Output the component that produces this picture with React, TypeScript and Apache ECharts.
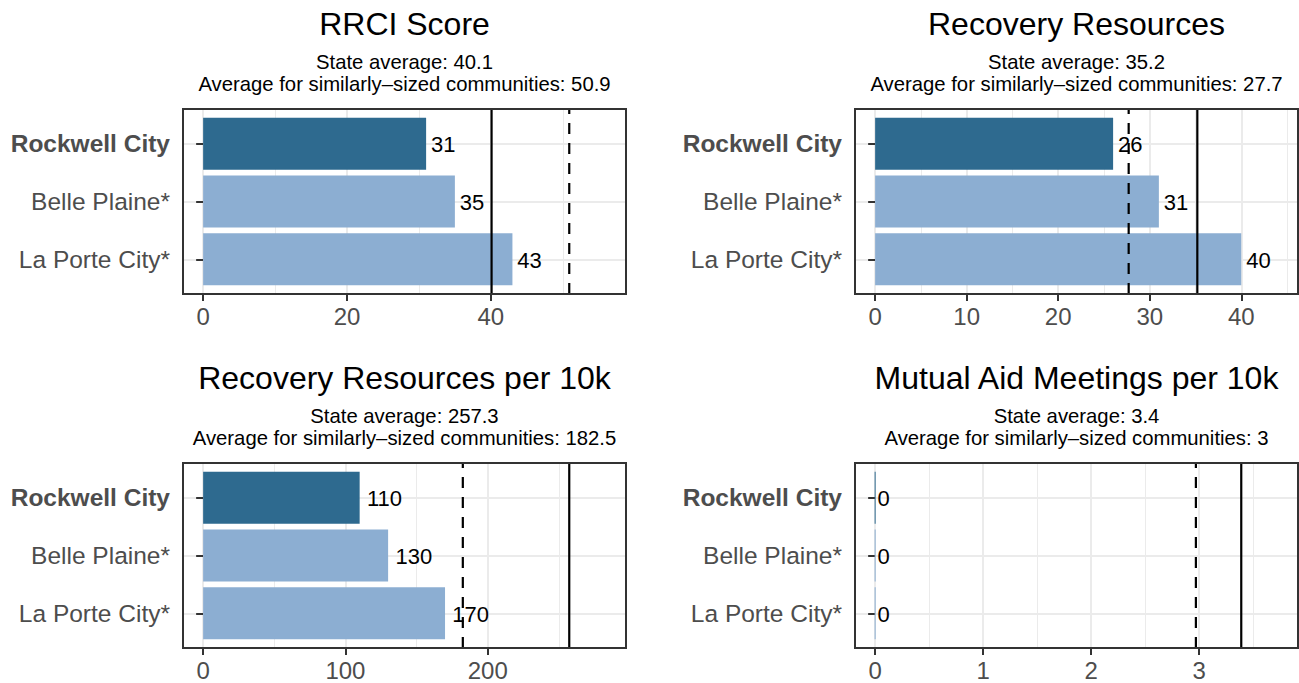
import React, { useEffect, useRef } from "react";
import * as echarts from "echarts";

// ---------- data ----------
const categories = ["Rockwell City", "Belle Plaine*", "La Porte City*"];
const focusCity = "Rockwell City";
const panelTitles = [
  "RRCI Score",
  "Recovery Resources",
  "Recovery Resources per 10k",
  "Mutual Aid Meetings per 10k",
];
const rrciValues = [31, 35, 43];
const resourcesValues = [26, 31, 40];
const resourcesPer10kValues = [110, 130, 170];
const meetingsPer10kValues = [0, 0, 0];
const stateAverages = [40.1, 35.2, 257.3, 3.39];
const similarAverages = [50.9, 27.7, 182.5, 2.97];
const stateAverageLabels = ["40.1", "35.2", "257.3", "3.4"];
const similarAverageLabels = ["50.9", "27.7", "182.5", "3"];
const xTickValues = [
  [0, 20, 40],
  [0, 10, 20, 30, 40],
  [0, 100, 200],
  [0, 1, 2, 3],
];

// ---------- style ----------
const FONT = '"Liberation Sans", Arial, Helvetica, sans-serif';
const darkBar = "#2E6A8F";
const lightBar = "#8CAED2";
const tickText = "#4D4D4D";
const borderCol = "#333333";
const gridCol = "#EBEBEB";
const panelValues = [rrciValues, resourcesValues, resourcesPer10kValues, meetingsPer10kValues];
const splitNumbers = [3, 5, 3, 4];
const layout = [
  { left: 183, top: 109 },
  { left: 855, top: 109 },
  { left: 183, top: 463 },
  { left: 855, top: 463 },
];
const W = 443;
const H = 185;
const LABEL_FS = 22;
const categoryPositions = categories.map((_, i) => i + 1);

export default function App() {
  const ref = useRef<HTMLDivElement>(null);

  useEffect(() => {
    const chart = echarts.init(ref.current!, null, { renderer: "svg" });

    const grids: any[] = [];
    const xAxes: any[] = [];
    const yAxes: any[] = [];
    const series: any[] = [];
    const graphics: any[] = [];

    panelValues.forEach((vals, i) => {
      const l = layout[i];
      const lim = 1.1 * Math.max(...vals, stateAverages[i], similarAverages[i]);
      grids.push({ left: l.left, top: l.top, width: W, height: H, show: false });
      xAxes.push({
        type: "value",
        gridIndex: i,
        min: -0.05 * lim,
        max: 1.05 * lim,
        splitNumber: splitNumbers[i],
        axisLine: { show: false },
        axisTick: {
          show: true,
          customValues: xTickValues[i],
          length: 7,
          lineStyle: { color: borderCol, width: 2 },
        },
        axisLabel: {
          show: true,
          customValues: xTickValues[i],
          margin: 10,
          fontSize: 24,
          color: tickText,
          fontFamily: FONT,
        },
        splitLine: { show: true, lineStyle: { color: gridCol, width: 2 } },
        minorTick: { show: false, splitNumber: 2 },
        minorSplitLine: { show: true, lineStyle: { color: gridCol, width: 1 } },
      });
      yAxes.push({
        type: "value",
        gridIndex: i,
        min: 0.4,
        max: 3.6,
        inverse: true,
        splitNumber: 3,
        axisLine: { show: false },
        axisTick: {
          show: true,
          customValues: categoryPositions,
          length: 7,
          lineStyle: { color: borderCol, width: 2 },
        },
        axisLabel: {
          show: true,
          customValues: categoryPositions,
          margin: 13,
          fontSize: 24.5,
          color: tickText,
          fontFamily: FONT,
          formatter: (v: number) => {
            const name = categories[Math.round(v) - 1] || "";
            return name === focusCity ? `{b|${name}}` : name;
          },
          rich: {
            b: { fontWeight: "bold", fontSize: 24.5, color: tickText, fontFamily: FONT },
          },
        },
        splitLine: { show: true, lineStyle: { color: gridCol, width: 2 } },
      });

      // bars
      series.push({
        type: "custom",
        xAxisIndex: i,
        yAxisIndex: i,
        z: 2,
        silent: true,
        data: vals.map((v, k) => [v, categoryPositions[k]]),
        encode: { x: 0, y: 1 },
        renderItem: (params: any, api: any) => {
          const v = api.value(0);
          const c = api.value(1);
          const s = api.coord([0, c]);
          const e = api.coord([v, c]);
          const h = api.size([0, 0.9])[1];
          let w = e[0] - s[0];
          let x0 = s[0];
          if (w < 1) {
            w = 1;
            x0 = s[0] - 0.5;
          }
          return {
            type: "rect",
            shape: { x: x0, y: s[1] - h / 2, width: w, height: h },
            style: {
              fill: categories[params.dataIndex] === focusCity ? darkBar : lightBar,
            },
          };
        },
      });

      // reference lines
      series.push({
        type: "line",
        xAxisIndex: i,
        yAxisIndex: i,
        z: 3,
        silent: true,
        symbol: "none",
        animation: false,
        data: [
          [stateAverages[i], 3.6],
          [stateAverages[i], 0.4],
        ],
        lineStyle: { color: "#000000", width: 2.2, type: "solid" },
      });
      series.push({
        type: "line",
        xAxisIndex: i,
        yAxisIndex: i,
        z: 3,
        silent: true,
        symbol: "none",
        animation: false,
        data: [
          [similarAverages[i], 3.6],
          [similarAverages[i], 0.4],
        ],
        lineStyle: { color: "#000000", width: 2.2, type: [11, 9] },
      });

      // value labels
      series.push({
        type: "custom",
        xAxisIndex: i,
        yAxisIndex: i,
        z: 4,
        silent: true,
        data: vals.map((v, k) => [v, categoryPositions[k]]),
        encode: { x: 0, y: 1 },
        renderItem: (params: any, api: any) => {
          const v = api.value(0);
          const c = api.value(1);
          const e = api.coord([v, c]);
          const str = String(vals[params.dataIndex]);
          return {
            type: "text",
            x: e[0] + 0.2 * str.length * 0.556 * LABEL_FS,
            y: e[1] + 1,
            style: {
              text: str,
              fill: "#000000",
              fontSize: LABEL_FS,
              fontFamily: FONT,
              align: "left",
              verticalAlign: "middle",
            },
          };
        },
      });

      // panel border
      graphics.push({
        type: "rect",
        silent: true,
        z: 100,
        shape: { x: l.left, y: l.top, width: W, height: H },
        style: { fill: "none", stroke: borderCol, lineWidth: 2 },
      });

      // titles
      const cx = l.left + W / 2;
      const dy = l.top - 109;
      graphics.push({
        type: "text",
        silent: true,
        x: cx,
        y: 24 + dy,
        style: {
          text: panelTitles[i],
          fill: "#000000",
          fontSize: 32,
          fontFamily: FONT,
          align: "center",
          verticalAlign: "middle",
        },
      });
      graphics.push({
        type: "text",
        silent: true,
        x: cx,
        y: 62 + dy,
        style: {
          text: `State average: ${stateAverageLabels[i]}`,
          fill: "#000000",
          fontSize: 20.3,
          fontFamily: FONT,
          align: "center",
          verticalAlign: "middle",
        },
      });
      graphics.push({
        type: "text",
        silent: true,
        x: cx,
        y: 84 + dy,
        style: {
          text: `Average for similarly–sized communities: ${similarAverageLabels[i]}`,
          fill: "#000000",
          fontSize: 20.3,
          fontFamily: FONT,
          align: "center",
          verticalAlign: "middle",
        },
      });
    });

    chart.setOption({
      animation: false,
      backgroundColor: "#FFFFFF",
      grid: grids,
      xAxis: xAxes,
      yAxis: yAxes,
      series,
      graphic: graphics,
    });

    return () => {
      chart.dispose();
    };
  }, []);

  return (
    <div
      ref={ref}
      style={{ position: "absolute", left: 0, top: 0, width: 1299, height: 683 }}
    />
  );
}
